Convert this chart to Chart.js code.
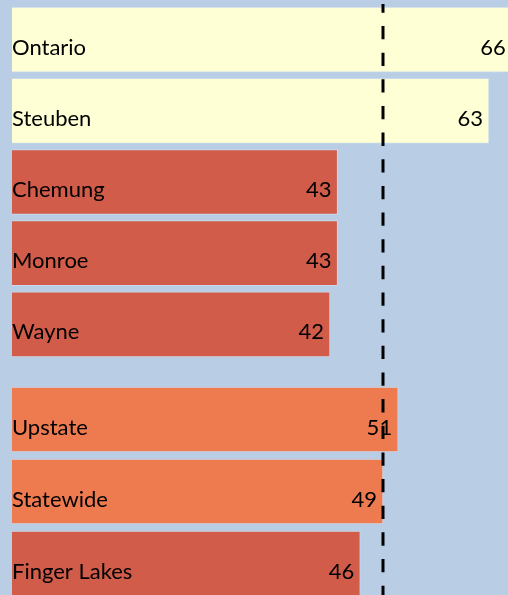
<!DOCTYPE html>
<html>
<head>
<meta charset="utf-8">
<script src="https://cdn.jsdelivr.net/npm/chart.js@4/dist/chart.umd.min.js"></script>
<style>
  html, body { margin: 0; padding: 0; width: 508px; height: 595px; overflow: hidden; background: #b9cde5; }
  .wrap { position: absolute; left: 12px; width: 530px; }
  #topWrap { top: 0; height: 364px; }
  #botWrap { top: 364px; height: 240px; }
</style>
</head>
<body>
<div class="wrap" id="topWrap"><canvas id="topChart"></canvas></div>
<div class="wrap" id="botWrap"><canvas id="botChart"></canvas></div>
<script>
// ---- data ----
const countyLabels = ["Ontario", "Steuben", "Chemung", "Monroe", "Wayne"];
const countyValues = [66, 63, 43, 43, 42];
const regionLabels = ["Upstate", "Statewide", "Finger Lakes"];
const regionValues = [51, 49, 46];
const statewideReference = 49;
const axisMax = 70;

// ---- styles ----
const YELLOW = "#ffffd5", RED = "#d15c4a", ORANGE = "#ee7a50";
const countyColors = countyValues.map(v => v > statewideReference ? YELLOW : RED);
const regionColors = [ORANGE, ORANGE, RED];
const FONT = "22px Lato";
const DASH_PERIOD = 26.65, DASH_ON = 13.3, DASH_PHASE = -0.65;

function makeChart(canvasId, labels, values, colors, padTop, padBottom, pageTop, lineStart) {
  const plugin = {
    id: 'labelsAndLine',
    afterDatasetsDraw(chart) {
      const ctx = chart.ctx;
      const meta = chart.getDatasetMeta(0);
      ctx.save();
      ctx.font = FONT;
      ctx.fillStyle = "#000";
      ctx.textBaseline = "alphabetic";
      meta.data.forEach((bar, i) => {
        const yBase = bar.y + 15;
        ctx.textAlign = "left";
        ctx.fillText(labels[i], bar.base, yBase);
        ctx.textAlign = "right";
        ctx.fillText(String(values[i]), bar.x - 6, yBase);
      });
      // dashed reference line at statewide value
      const x = chart.scales.x.getPixelForValue(statewideReference);
      const y0 = lineStart, y1 = chart.height;
      let off = ((pageTop + y0 - DASH_PHASE) % DASH_PERIOD + DASH_PERIOD) % DASH_PERIOD;
      ctx.setLineDash([DASH_ON, DASH_PERIOD - DASH_ON]);
      ctx.lineDashOffset = off;
      ctx.strokeStyle = "#000";
      ctx.lineWidth = 3;
      ctx.beginPath();
      ctx.moveTo(x, y0);
      ctx.lineTo(x, y1);
      ctx.stroke();
      ctx.restore();
    }
  };
  return new Chart(document.getElementById(canvasId), {
    type: 'bar',
    data: {
      labels: labels,
      datasets: [{
        data: values,
        backgroundColor: colors,
        borderColor: "rgba(255,255,255,0.25)",
        borderWidth: 1,
        barThickness: 65
      }]
    },
    options: {
      indexAxis: 'y',
      responsive: true,
      maintainAspectRatio: false,
      animation: false,
      layout: { padding: { top: padTop, bottom: padBottom, left: 0, right: 0 } },
      plugins: { legend: { display: false }, tooltip: { enabled: false } },
      scales: {
        x: { min: 0, max: axisMax, display: false },
        y: { display: false }
      }
    },
    plugins: [plugin]
  });
}

makeChart('topChart', countyLabels, countyValues, countyColors, 4, 4, 0, 4);
makeChart('botChart', regionLabels, regionValues, regionColors, 19.5, 4.5, 364, 0);
</script>
</body>
</html>
